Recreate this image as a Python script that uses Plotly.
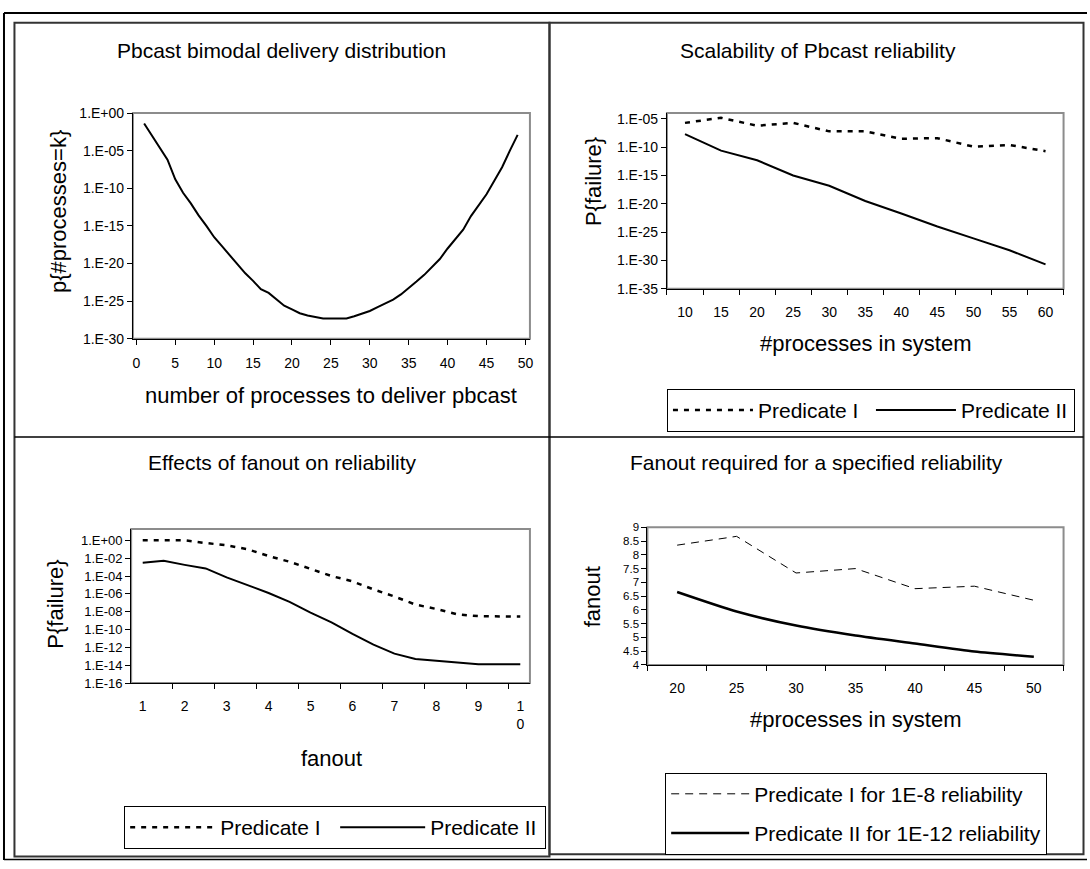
import plotly.graph_objects as go

W, H = 1090, 869
FONT = "Liberation Sans"

# ---------------- data ----------------
# Panel 1: Pbcast bimodal delivery distribution
k_procs = list(range(1, 50))
p_k = [3.98e-2, 1.0e-3, 2.51e-5, 6.31e-7, 1.58e-9, 2.51e-11, 1.0e-12, 2.51e-14, 1.0e-15, 3.16e-17,
       2.0e-18, 1.26e-19, 7.94e-21, 5.01e-22, 5.01e-23, 3.98e-24, 1.26e-24, 2.0e-25, 2.51e-26, 7.94e-27,
       2.51e-27, 1.26e-27, 7.94e-28, 5.01e-28, 5.01e-28, 5.01e-28, 5.01e-28, 1.0e-27, 2.0e-27, 5.01e-27,
       1.58e-26, 5.01e-26, 1.58e-25, 7.94e-25, 5.01e-24, 3.98e-23, 3.16e-22, 3.16e-21, 3.98e-20, 1.0e-18,
       2.0e-17, 3.16e-16, 2.0e-14, 6.31e-13, 1.58e-11, 1.0e-9, 6.31e-8, 1.0e-5, 1.26e-3]

# Panel 2: Scalability of Pbcast reliability
n_system = [10, 15, 20, 25, 30, 35, 40, 45, 50, 55, 60]
scal_pred1 = [2.0e-6, 1.58e-5, 6.31e-7, 2.0e-6, 6.31e-8, 6.31e-8, 3.16e-9, 3.98e-9, 1.26e-10, 2.51e-10, 2.0e-11]
scal_pred2 = [2.0e-8, 2.51e-11, 5.01e-13, 1.0e-15, 1.58e-17, 3.16e-20, 2.0e-22, 1.0e-24, 7.94e-27, 6.31e-29, 2.0e-31]

# Panel 3: Effects of fanout on reliability
fanout = [1, 1.5, 2, 2.5, 3, 3.5, 4, 4.5, 5, 5.5, 6, 6.5, 7, 7.5, 8, 8.5, 9, 9.5, 10]
fan_pred1 = [1.0, 1.0, 1.0, 0.5, 0.28, 0.1, 1.74e-2, 3.98e-3, 6.31e-4, 1.0e-4, 2.51e-5, 3.16e-6, 5.01e-7,
             6.31e-8, 2.0e-8, 5.01e-9, 3.16e-9, 2.8e-9, 2.8e-9]
fan_pred2 = [3.16e-3, 5.01e-3, 1.78e-3, 7.08e-4, 7.08e-5, 1.0e-5, 1.26e-6, 1.26e-7, 7.94e-9, 6.31e-10,
             3.16e-11, 2.0e-12, 2.0e-13, 5.01e-14, 3.16e-14, 1.78e-14, 1.26e-14, 1.26e-14, 1.26e-14]

# Panel 4: Fanout required for a specified reliability
n_req = [20, 25, 30, 35, 40, 45, 50]
req_pred1 = [8.35, 8.67, 7.34, 7.5, 6.77, 6.86, 6.35]
req_pred2 = [6.65, 5.94, 5.43, 5.07, 4.78, 4.49, 4.3]

# tick labels
p1_ytickvals = [1e0, 1e-5, 1e-10, 1e-15, 1e-20, 1e-25, 1e-30]
p1_yticktext = ["1.E+00", "1.E-05", "1.E-10", "1.E-15", "1.E-20", "1.E-25", "1.E-30"]
p2_ytickvals = [1e-5, 1e-10, 1e-15, 1e-20, 1e-25, 1e-30, 1e-35]
p2_yticktext = ["1.E-05", "1.E-10", "1.E-15", "1.E-20", "1.E-25", "1.E-30", "1.E-35"]
p3_ytickvals = [1e0, 1e-2, 1e-4, 1e-6, 1e-8, 1e-10, 1e-12, 1e-14, 1e-16]
p3_yticktext = ["1.E+00", "1.E-02", "1.E-04", "1.E-06", "1.E-08", "1.E-10", "1.E-12", "1.E-14", "1.E-16"]
p3_xtickvals = [1, 2, 3, 4, 5, 6, 7, 8, 9, 10]
p3_xticktext = ["1", "2", "3", "4", "5", "6", "7", "8", "9", "1<br>0"]


# ---------------- helpers ----------------
def px(x):
    return x / W


def py(y):
    return 1 - y / H


def dom_x(a, b):
    return [px(a), px(b)]


def dom_y(top, bottom):
    return [py(bottom), py(top)]


tickfont = dict(family=FONT, size=14, color="black")
axis_common = dict(showgrid=False, zeroline=False, showline=True, linecolor="black", linewidth=1,
                   tickfont=tickfont, tickcolor="black", ticklen=5, tickwidth=1)

fig = go.Figure()

# Panel 1
fig.add_trace(go.Scatter(x=k_procs, y=p_k, mode="lines", line=dict(color="black", width=2),
                         xaxis="x", yaxis="y", showlegend=False))
# Panel 2
fig.add_trace(go.Scatter(x=n_system, y=scal_pred1, mode="lines", name="Predicate I",
                         line=dict(color="black", width=2.5, dash="5px,6px"),
                         xaxis="x2", yaxis="y2", legend="legend"))
fig.add_trace(go.Scatter(x=n_system, y=scal_pred2, mode="lines", name="Predicate II",
                         line=dict(color="black", width=2),
                         xaxis="x2", yaxis="y2", legend="legend"))
# Panel 3
fig.add_trace(go.Scatter(x=fanout, y=fan_pred1, mode="lines", name="Predicate I",
                         line=dict(color="black", width=2.5, dash="5px,6px"),
                         xaxis="x3", yaxis="y3", legend="legend2"))
fig.add_trace(go.Scatter(x=fanout, y=fan_pred2, mode="lines", name="Predicate II",
                         line=dict(color="black", width=2),
                         xaxis="x3", yaxis="y3", legend="legend2"))
# Panel 4
fig.add_trace(go.Scatter(x=n_req, y=req_pred1, mode="lines", name="Predicate I for 1E-8 reliability",
                         line=dict(color="black", width=1, dash="8px,6px"),
                         xaxis="x4", yaxis="y4", legend="legend3", legendgroup="a"))
fig.add_trace(go.Scatter(x=n_req, y=req_pred2, mode="lines", name="Predicate II for 1E-12 reliability",
                         line=dict(color="black", width=2.5, shape="spline", smoothing=0.6),
                         xaxis="x4", yaxis="y4", legend="legend3", legendgroup="b"))

legend_common = dict(bgcolor="white", bordercolor="black", borderwidth=1,
                     font=dict(family=FONT, size=21, color="black"), xanchor="left", yanchor="top")

fig.update_layout(
    width=W, height=H, margin=dict(l=0, r=0, t=0, b=0),
    paper_bgcolor="white", plot_bgcolor="white",
    font=dict(family=FONT, color="black"),
    xaxis=dict(axis_common, domain=dom_x(133.3, 531.4), range=[-0.44, 50.58], anchor="y",
               tickmode="array", tickvals=list(range(0, 51, 5)), ticks="outside",
               ticklabelstandoff=6),
    yaxis=dict(axis_common, domain=dom_y(107, 337), type="log", range=[-30, 0], anchor="x",
               tickmode="array", tickvals=p1_ytickvals, ticktext=p1_yticktext, ticks="outside"),
    xaxis2=dict(axis_common, domain=dom_x(668.8, 1066.5), range=[7.5, 62.5], anchor="y2",
                tickmode="array", tickvals=n_system, ticks="", ticklabelstandoff=10,
                minor=dict(tickmode="linear", tick0=7.5, dtick=5, ticks="outside", ticklen=5,
                           tickcolor="black", tickwidth=1)),
    yaxis2=dict(axis_common, domain=dom_y(107, 286), type="log", range=[-35, -3.96], anchor="x2",
                tickmode="array", tickvals=p2_ytickvals, ticktext=p2_yticktext, ticks="outside"),
    xaxis3=dict(axis_common, domain=dom_x(131.5, 531.4), range=[0.724, 10.23], anchor="y3",
                tickmode="array", tickvals=p3_xtickvals, ticktext=p3_xticktext, ticks="",
                ticklabelstandoff=10,
                minor=dict(tickmode="linear", tick0=0.72, dtick=1, ticks="outside", ticklen=5,
                           tickcolor="black", tickwidth=1)),
    yaxis3=dict(axis_common, domain=dom_y(530.7, 687.7), type="log", range=[-16, 1.28], anchor="x3",
                tickmode="array", tickvals=p3_ytickvals, ticktext=p3_yticktext, ticks="outside",
                tickfont=dict(family=FONT, size=13, color="black")),
    xaxis4=dict(axis_common, domain=dom_x(649.2, 1066.5), range=[17.5, 52.5], anchor="y4",
                tickmode="array", tickvals=n_req, ticks="", ticklabelstandoff=10,
                minor=dict(tickmode="linear", tick0=17.5, dtick=5, ticks="outside", ticklen=5,
                           tickcolor="black", tickwidth=1)),
    yaxis4=dict(axis_common, domain=dom_y(529, 669.3), range=[4, 9], anchor="x4",
                tickmode="linear", tick0=4, dtick=0.5, ticks="outside",
                tickfont=dict(family=FONT, size=11.5, color="black")),
    legend=dict(legend_common, x=px(668.8), y=py(388), orientation="h", itemwidth=80,
                entrywidth=108),
    legend2=dict(legend_common, x=px(124.5), y=py(813), orientation="h", itemwidth=85,
                 entrywidth=110),
    legend3=dict(legend_common, x=px(667), y=py(779), orientation="v", itemwidth=78,
                 traceorder="grouped", tracegroupgap=9),
)

# ---------------- frames ----------------
shapes = []
# plot-area borders (gray, Excel style)
for ax in ["", "2", "3", "4"]:
    shapes.append(dict(type="rect", xref=f"x{ax} domain", yref=f"y{ax} domain", x0=0, x1=1, y0=0, y1=1,
                       line=dict(color="#8c8c8c", width=2), layer="below"))
# outer frame
shapes.append(dict(type="line", xref="paper", yref="paper", x0=px(4), x1=1, y0=py(5), y1=py(5),
                   line=dict(color="black", width=2)))
shapes.append(dict(type="line", xref="paper", yref="paper", x0=px(4), x1=px(4), y0=py(5), y1=py(868),
                   line=dict(color="black", width=2)))
shapes.append(dict(type="line", xref="paper", yref="paper", x0=px(4), x1=1, y0=py(867.5), y1=py(867.5),
                   line=dict(color="black", width=1.5)))
# panel boxes
shapes.append(dict(type="rect", xref="paper", yref="paper", x0=px(14.5), x1=px(551), y0=py(864.5), y1=py(15),
                   line=dict(color="#333333", width=2)))
shapes.append(dict(type="rect", xref="paper", yref="paper", x0=px(551), x1=px(1086.5), y0=py(862), y1=py(15),
                   line=dict(color="#333333", width=2)))
shapes.append(dict(type="line", xref="paper", yref="paper", x0=px(14.5), x1=px(1086.5), y0=py(437), y1=py(437),
                   line=dict(color="black", width=1.5)))
fig.update_layout(shapes=shapes)

# ---------------- texts ----------------
ann = []


def text(x, y, s, size, angle=0):
    ann.append(dict(x=px(x), y=py(y), xref="paper", yref="paper", text=s, showarrow=False,
                    font=dict(family=FONT, size=size, color="black"), textangle=angle,
                    xanchor="center", yanchor="middle"))


text(282, 43, "Pbcast bimodal delivery distribution", 21)
text(58, 207, "p{#processes=k}", 22, -90)
text(332, 395, "number of processes to deliver pbcast", 22)

text(820, 43, "Scalability of Pbcast reliability", 21)
text(595, 177, "P{failure}", 22, -90)
text(868, 342, "#processes in system", 22)

text(283, 463, "Effects of fanout on reliability", 21)
text(56, 607, "P{failure}", 22, -90)
text(332, 765, "fanout", 22)

text(819, 463, "Fanout required for a specified reliability", 21)
text(595, 600, "fanout", 22, -90)
text(858, 725, "#processes in system", 22)

fig.update_layout(annotations=ann)

fig.write_html("out.html")
